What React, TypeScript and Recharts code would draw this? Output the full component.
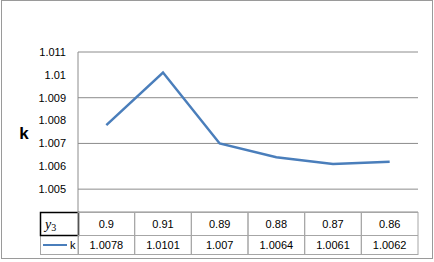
import React from 'react';
import { LineChart, Line, XAxis, YAxis, CartesianGrid, Customized } from 'recharts';

const categories = ['0.9', '0.91', '0.89', '0.88', '0.87', '0.86'];
const kValues = [1.0078, 1.0101, 1.007, 1.0064, 1.0061, 1.0062];
const kLabels = ['1.0078', '1.0101', '1.007', '1.0064', '1.0061', '1.0062'];
const yTicks = [1.005, 1.006, 1.007, 1.008, 1.009, 1.01, 1.011];
const yDomain: [number, number] = [1.004, 1.011];
const seriesName = 'k';
const axisTitle = 'k';
const xVarName = 'y';
const xVarSub = '3';

const data = categories.map((c, i) => ({ y3: c, k: kValues[i], label: kLabels[i] }));

const W = 434;
const H = 262;
const M = { top: 52, right: 16, bottom: 8, left: 0 };
const YW = 78;
const XH = 42;
const ROW1 = 23;
const plotW = W - M.left - M.right - YW;
const colW = plotW / categories.length;
const FONT = '"Liberation Sans", Arial, sans-serif';
const GRID = '#8c8c8c';
const TABLE = '#a6a6a6';
const BLUE = '#4a7ebb';

const TableTick = (props: any) => {
  const { x, y, payload, index } = props;
  const left = x - colW / 2;
  const top = Math.round(y) + 0.5;
  const row = data[index] ?? data[payload?.index ?? 0];
  return (
    <g>
      <rect x={left} y={top} width={colW} height={XH} fill="none" stroke={TABLE} />
      <line x1={left} x2={left + colW} y1={top + ROW1} y2={top + ROW1} stroke={TABLE} />
      <text x={x} y={top + ROW1 / 2} textAnchor="middle" dominantBaseline="central" fontFamily={FONT} fontSize={11} fill="#000">
        {payload.value}
      </text>
      <text x={x} y={top + ROW1 + (XH - ROW1) / 2} textAnchor="middle" dominantBaseline="central" fontFamily={FONT} fontSize={11} fill="#000">
        {row ? row.label : ''}
      </text>
    </g>
  );
};

const Decor = () => {
  const tTop = H - M.bottom - XH + 0.5;
  return (
    <g>
      <rect x={1.5} y={0.5} width={431} height={258} fill="none" stroke="#9a9a9a" />
      <text x={24} y={133} textAnchor="middle" dominantBaseline="central" fontFamily={FONT} fontSize={17} fontWeight="bold" fill="#000">
        {axisTitle}
      </text>
      <rect x={40.5} y={tTop + ROW1} width={YW - 40} height={XH - ROW1} fill="none" stroke={TABLE} />
      <rect x={40.5} y={tTop} width={YW - 40} height={ROW1} fill="none" stroke="#000" strokeWidth={1.5} />
      <text x={45} y={tTop + ROW1 / 2} dominantBaseline="central" fontFamily='"Liberation Serif", "DejaVu Serif", serif' fontStyle="italic" fontSize={14} fill="#000">
        {xVarName}
        <tspan fontSize={10} dy={3} fontStyle="normal">{xVarSub}</tspan>
      </text>
      <line x1={43} x2={67} y1={tTop + ROW1 + (XH - ROW1) / 2} y2={tTop + ROW1 + (XH - ROW1) / 2} stroke={BLUE} strokeWidth={2} />
      <text x={70} y={tTop + ROW1 + (XH - ROW1) / 2} dominantBaseline="central" fontFamily={FONT} fontSize={11} fill="#000">
        {seriesName}
      </text>
    </g>
  );
};

export default function App() {
  return (
    <div style={{ position: 'absolute', left: 0, top: 0, width: W, height: H, background: '#fff' }}>
      <LineChart width={W} height={H} data={data} margin={M}>
        <CartesianGrid horizontal vertical={false} stroke={GRID} />
        <XAxis
          dataKey="y3"
          scale="band"
          interval={0}
          tickLine={false}
          axisLine={false}
          tickSize={0}
          tickMargin={0}
          height={XH}
          tick={<TableTick />}
        />
        <YAxis
          type="number"
          domain={yDomain}
          ticks={yTicks}
          allowDataOverflow
          width={YW}
          tickLine={false}
          tickSize={0}
          tickMargin={12}
          axisLine={{ stroke: GRID }}
          tick={{ fill: '#000', fontSize: 11, fontFamily: FONT }}
        />
        <Line
          type="linear"
          dataKey="k"
          name={seriesName}
          stroke={BLUE}
          strokeWidth={2.5}
          dot={false}
          isAnimationActive={false}
        />
        <Customized component={Decor} />
      </LineChart>
    </div>
  );
}
